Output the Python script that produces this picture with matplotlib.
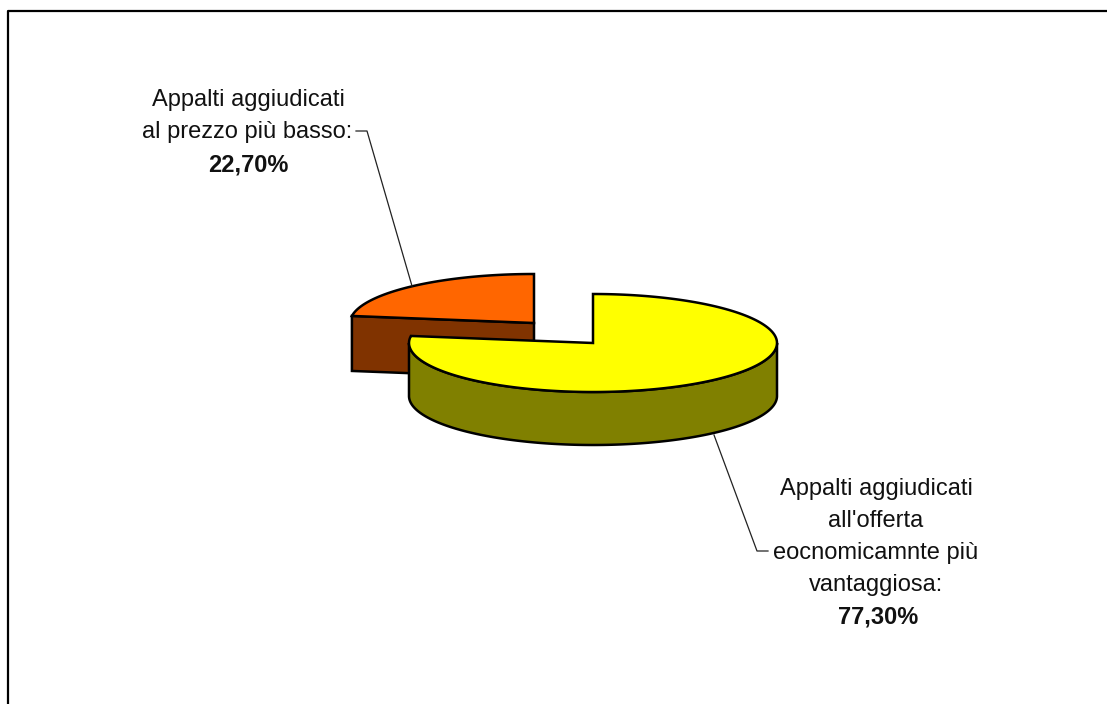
import numpy as np
import matplotlib
matplotlib.use('Agg')
import matplotlib.pyplot as plt

plt.rcParams['font.family'] = ['Liberation Sans', 'DejaVu Sans']

# slice values, in percent
labels = ['Appalti aggiudicati\nal prezzo più basso:', "Appalti aggiudicati\nall'offerta\neocnomicamnte più\nvantaggiosa:"]
values = [22.70, 77.30]
value_labels = ['22,70%', '77,30%']

top_colors = ['#ff6600', '#ffff00']
side_colors = ['#803300', '#808000']

RX = 184
RY = 49
DEPTH = 53
centers = [(534, 323), (593, 343)]


def rim(cx, cy, a0, a1):
    # angles are clockwise from the top of the pie, in degrees
    t = np.radians(np.linspace(a0, a1, 200))
    return cx + RX * np.sin(t), cy - RY * np.cos(t)


def draw_slice(ax, c, a0, a1, top, side, cut_face):
    cx, cy = c
    x, y = rim(cx, cy, a0, a1)
    # outer wall, only the part that faces the viewer
    lo = max(a0, 90)
    hi = min(a1, 270)
    if hi > lo:
        wx, wy = rim(cx, cy, lo, hi)
        ax.fill(np.r_[wx, wx[::-1]], np.r_[wy, wy[::-1] + DEPTH], fc=side, ec='black', lw=1.8, zorder=2)
    # flat side of the slice that shows in the missing wedge
    if cut_face:
        ax.fill([x[0], cx, cx, x[0]], [y[0], cy, cy + DEPTH + 2, y[0] + DEPTH + 2],
                fc=side, ec='black', lw=1.8, zorder=2)
    ax.fill(np.r_[cx, x, cx], np.r_[cy, y, cy], fc=top, ec='black', lw=1.8, zorder=2)


fig = plt.figure(figsize=(11.07, 7.04), dpi=100)
ax = fig.add_axes([0, 0, 1, 1])
ax.set_xlim(0, 1107)
ax.set_ylim(704, 0)
ax.axis('off')

# yellow slice starts at the top and runs clockwise, orange closes the circle
yellow_end = values[1] / 100 * 360
draw_slice(ax, centers[0], yellow_end, 360, top_colors[0], side_colors[0], True)
draw_slice(ax, centers[1], 0, yellow_end, top_colors[1], side_colors[1], False)

# chart frame, right and bottom edges fall off the picture
ax.plot([8, 8, 1107], [704, 11, 11], color='black', lw=1.6, clip_on=False, zorder=1)

# leader lines
ax.plot([356, 367, 412], [131, 131, 286], color='#222222', lw=0.9, zorder=3)
ax.plot([714, 757, 768], [435, 551, 551], color='#222222', lw=0.9, zorder=3)

fs = 17
ax.text(248, 100, 'Appalti aggiudicati', ha='center', va='center', fontsize=fs, color='#111111')
ax.text(247, 132, 'al prezzo più basso:', ha='center', va='center', fontsize=fs, color='#111111')
ax.text(248, 165, value_labels[0], ha='center', va='center', fontsize=fs, fontweight='bold', color='#111111')

lines = labels[1].split('\n')
ys = [489, 521, 553, 585]
for s, y in zip(lines, ys):
    ax.text(876, y, s, ha='center', va='center', fontsize=fs, color='#111111')
ax.text(878, 617, value_labels[1], ha='center', va='center', fontsize=fs, fontweight='bold', color='#111111')

fig.savefig('out.png', dpi=100)
